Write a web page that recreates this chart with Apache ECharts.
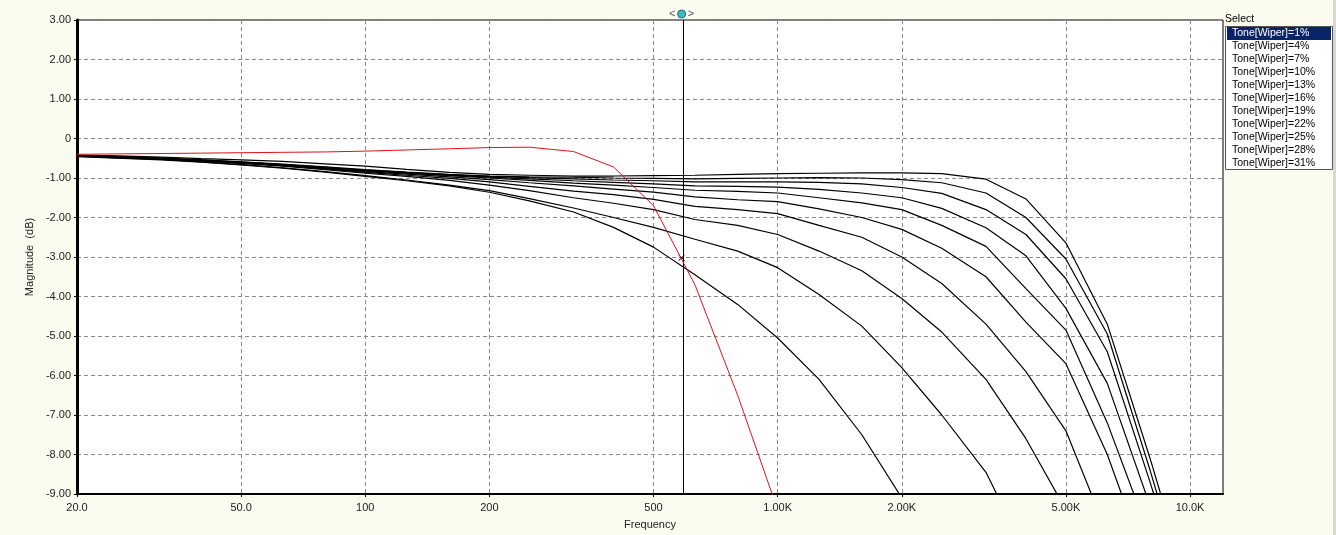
<!DOCTYPE html>
<html>
<head>
<meta charset="utf-8">
<script src="https://cdn.jsdelivr.net/npm/echarts@6/dist/echarts.min.js"></script>
<style>
html,body{margin:0;padding:0;background:#fbfbf0;}
#chart{width:1336px;height:535px;}
</style>
</head>
<body>
<div id="chart"></div>
<script>
// ---- data ----
const freqHz = [20,25,32,40,50,63,80,100,126,160,200,250,320,400,500,630,800,1000,1260,1600,2000,2500,3200,4000,5000,6300,8000,10000];

const wiper1  = [-0.40,-0.39,-0.38,-0.37,-0.36,-0.35,-0.34,-0.32,-0.29,-0.26,-0.23,-0.22,-0.33,-0.72,-1.70,-3.70,-6.50,-9.40];
const wiper4  = [-0.46,-0.50,-0.54,-0.60,-0.67,-0.75,-0.85,-0.96,-1.07,-1.20,-1.36,-1.58,-1.86,-2.25,-2.75,-3.45,-4.20,-5.05,-6.10,-7.50,-9.10];
const wiper7  = [-0.45,-0.49,-0.53,-0.59,-0.66,-0.74,-0.84,-0.94,-1.05,-1.18,-1.32,-1.52,-1.76,-2.00,-2.25,-2.55,-2.85,-3.27,-3.95,-4.75,-5.80,-7.00,-8.45,-10.5];
const wiper10 = [-0.45,-0.48,-0.52,-0.57,-0.63,-0.70,-0.79,-0.88,-0.96,-1.06,-1.18,-1.32,-1.50,-1.64,-1.80,-2.05,-2.20,-2.43,-2.85,-3.35,-4.05,-4.90,-6.10,-7.60,-9.40];
const wiper13 = [-0.44,-0.47,-0.51,-0.56,-0.62,-0.69,-0.77,-0.86,-0.93,-1.01,-1.10,-1.21,-1.33,-1.42,-1.54,-1.72,-1.80,-1.90,-2.20,-2.50,-3.00,-3.67,-4.70,-5.90,-7.40,-10.0];
const wiper16 = [-0.44,-0.47,-0.51,-0.56,-0.62,-0.68,-0.76,-0.84,-0.90,-0.97,-1.04,-1.12,-1.20,-1.28,-1.36,-1.48,-1.55,-1.60,-1.78,-2.00,-2.30,-2.78,-3.50,-4.65,-5.70,-8.00,-11.0];
const wiper19 = [-0.44,-0.47,-0.51,-0.55,-0.61,-0.67,-0.75,-0.82,-0.88,-0.94,-1.00,-1.06,-1.13,-1.18,-1.24,-1.31,-1.34,-1.38,-1.50,-1.63,-1.80,-2.20,-2.73,-3.80,-4.85,-7.20,-10.1];
const wiper22 = [-0.44,-0.47,-0.50,-0.55,-0.60,-0.66,-0.74,-0.81,-0.87,-0.93,-0.98,-1.02,-1.07,-1.11,-1.15,-1.20,-1.21,-1.23,-1.29,-1.38,-1.50,-1.77,-2.26,-2.97,-4.30,-6.20,-9.30];
const wiper25 = [-0.43,-0.46,-0.50,-0.54,-0.60,-0.66,-0.73,-0.80,-0.86,-0.92,-0.96,-0.99,-1.02,-1.05,-1.07,-1.10,-1.10,-1.10,-1.11,-1.15,-1.24,-1.39,-1.80,-2.43,-3.55,-5.40,-8.70,-12.0];
const wiper28 = [-0.43,-0.46,-0.50,-0.54,-0.59,-0.65,-0.72,-0.79,-0.85,-0.91,-0.95,-0.97,-0.98,-1.00,-1.01,-1.02,-1.01,-1.00,-0.99,-1.00,-1.04,-1.12,-1.38,-2.00,-3.05,-4.95,-8.40,-11.8];
const wiper31 = [-0.42,-0.44,-0.47,-0.51,-0.54,-0.58,-0.64,-0.70,-0.78,-0.86,-0.91,-0.93,-0.95,-0.95,-0.94,-0.93,-0.91,-0.89,-0.88,-0.87,-0.87,-0.89,-1.03,-1.53,-2.64,-4.70,-8.10,-11.5];

const seriesNames = ['Tone[Wiper]=1%','Tone[Wiper]=4%','Tone[Wiper]=7%','Tone[Wiper]=10%','Tone[Wiper]=13%','Tone[Wiper]=16%','Tone[Wiper]=19%','Tone[Wiper]=22%','Tone[Wiper]=25%','Tone[Wiper]=28%','Tone[Wiper]=31%'];
const seriesValues = [wiper1,wiper4,wiper7,wiper10,wiper13,wiper16,wiper19,wiper22,wiper25,wiper28,wiper31];

const xTickHz = [20,50,100,200,500,1000,2000,5000,10000];
const xTickLabels = ['20.0','50.0','100','200','500','1.00K','2.00K','5.00K','10.0K'];
const yMin = -9, yMax = 3, yStep = 1;
const xMinHz = 20, xMaxHz = 12020;

const cursorHz = 585;
const cursorMag = -3.02;

// ---- chart ----
const FONT = 'Liberation Sans, Arial, sans-serif';
const lg = Math.log10;
const chart = echarts.init(document.getElementById('chart'), null, {renderer:'canvas'});

function xLabel(v){
  for (let i=0;i<xTickHz.length;i++){ if (Math.abs(lg(xTickHz[i])-v)<1e-6) return xTickLabels[i]; }
  return '';
}

const series = seriesValues.map((vals, k) => ({
  name: seriesNames[k],
  type: 'line',
  data: vals.map((v,i)=>[lg(freqHz[i]), v]),
  showSymbol: false,
  symbol: 'none',
  silent: true,
  clip: true,
  z: k===0 ? 5 : 3,
  lineStyle: {color: k===0 ? '#e0101a' : '#000', width: k===0 ? 1 : 1.2},
  itemStyle: {color: k===0 ? '#e0101a' : '#000'}
}));

series[0].markLine = {
  silent: true, symbol: 'none', animation:false,
  label: {show:false},
  lineStyle: {color:'#000', width:1, type:'solid'},
  data: [{xAxis: lg(cursorHz)}]
};
series[0].markPoint = {
  silent: true, animation:false,
  data: [
    {coord:[lg(cursorHz), yMax], symbol:'circle', symbolSize:8, symbolOffset:[0,-6],
     itemStyle:{color:'#3cbcbc', borderColor:'#1d6d6d', borderWidth:1},
     label:{show:true, position:'inside', formatter:'<    >', color:'#555', fontSize:11, fontFamily:FONT}},
    {coord:[lg(cursorHz), cursorMag], symbol:'path://M0,0L10,10M10,0L0,10', symbolSize:6,
     itemStyle:{color:'none', borderColor:'#000', borderWidth:1}, label:{show:false}}
  ]
};

const option = {
  animation: false,
  backgroundColor: '#fbfbf0',
  title: {text:'Select', left:1225, top:14, padding:0,
    textStyle:{fontSize:10.5, fontWeight:'normal', color:'#000', fontFamily:FONT}},
  grid: {left:77, right:113, top:20, bottom:39, show:true, backgroundColor:'#fff', borderColor:'#000', borderWidth:1},
  xAxis: {
    type:'value', min: lg(xMinHz), max: lg(xMaxHz),
    name:'Frequency', nameLocation:'middle', nameGap:25,
    nameTextStyle:{fontSize:11, color:'#222', fontFamily:FONT},
    axisLine:{show:true, onZero:false, lineStyle:{color:'#000', width:2}},
    axisTick:{show:true, length:3, customValues: xTickHz.map(lg), lineStyle:{color:'#000'}},
    axisLabel:{customValues: xTickHz.map(lg), formatter: xLabel, fontSize:11, color:'#222', fontFamily:FONT, margin:8},
    splitLine:{show:true, lineStyle:{color:'#8a8a8a', width:1, type:[4,3]}}
  },
  yAxis: {
    type:'value', min:yMin, max:yMax, interval:yStep,
    name:'Magnitude  (dB)', nameLocation:'middle', nameGap:39,
    nameTextStyle:{fontSize:11, color:'#222', fontFamily:FONT},
    axisLine:{show:true, onZero:false, lineStyle:{color:'#000', width:3}},
    axisTick:{show:true, length:3, lineStyle:{color:'#000'}},
    axisLabel:{formatter: v => v===0 ? '0' : v.toFixed(2), fontSize:11, color:'#222', fontFamily:FONT, margin:6},
    splitLine:{show:true, lineStyle:{color:'#8a8a8a', width:1, type:[4,3]}}
  },
  legend: {
    data: seriesNames,
    orient:'vertical', left:1221, top:27, padding:0,
    itemWidth:0, itemHeight:0, itemGap:0,
    selectedMode:false,
    formatter: name => (name===seriesNames[0] ? '{s|' : '{n|') + name + '}',
    textStyle:{fontFamily:FONT, fontSize:10.5,
      rich:{
        s:{fontFamily:FONT, fontSize:10.5, color:'#fff', backgroundColor:'#0a246a', width:99, height:13, lineHeight:13, padding:[0,0,0,5]},
        n:{fontFamily:FONT, fontSize:10.5, color:'#000', width:99, height:13, lineHeight:13, padding:[0,0,0,5]}
      }}
  },
  graphic: [
    {type:'rect', left:1225, top:26, z:0, shape:{width:107, height:143},
     style:{fill:'#fff', stroke:'#555', lineWidth:1}},
    {type:'rect', left:1333, top:0, z:0, shape:{width:3, height:535},
     style:{fill:'#d8d8d0'}}
  ],
  series: series
};
chart.setOption(option);
</script>
</body>
</html>
